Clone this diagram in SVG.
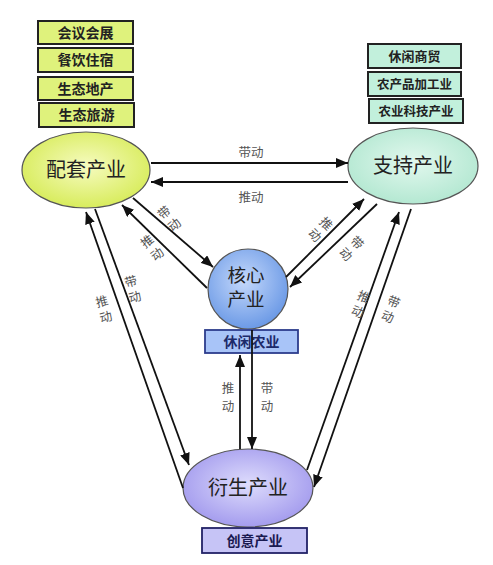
<svg xmlns="http://www.w3.org/2000/svg" width="493" height="565" viewBox="0 0 493 565">
<defs>
  <radialGradient id="gPT" cx="50%" cy="45%" r="55%">
    <stop offset="0" stop-color="#f6fbc0"/>
    <stop offset="1" stop-color="#d8ec5c"/>
  </radialGradient>
  <radialGradient id="gZC" cx="50%" cy="45%" r="55%">
    <stop offset="0" stop-color="#e2f8ee"/>
    <stop offset="1" stop-color="#b4e8d2"/>
  </radialGradient>
  <radialGradient id="gHX" cx="45%" cy="40%" r="60%">
    <stop offset="0" stop-color="#c4d8fb"/>
    <stop offset="1" stop-color="#6c9ae6"/>
  </radialGradient>
  <radialGradient id="gYS" cx="50%" cy="45%" r="55%">
    <stop offset="0" stop-color="#dedcfc"/>
    <stop offset="1" stop-color="#a49cee"/>
  </radialGradient>
  <marker id="arr" viewBox="0 0 12 10" refX="12" refY="5" markerWidth="12" markerHeight="10" markerUnits="userSpaceOnUse" orient="auto">
    <path d="M0,0 L12,5 L0,10 z" fill="#111"/>
  </marker>
  <style>
    .ell { stroke: #555; stroke-width: 1.2; }
    .nt { font-family: "Noto Sans CJK SC", "Noto Sans", sans-serif; font-size: 20px; fill: #222; text-anchor: middle; }
    .bx { stroke: #222; stroke-width: 2; }
    .bt { font-family: "Noto Sans CJK SC", "Noto Sans", sans-serif; font-size: 14px; font-weight: bold; fill: #222; text-anchor: middle; }
    .ln { stroke: #111; stroke-width: 1.8; fill: none; marker-end: url(#arr); }
    .lb { font-family: "Noto Sans CJK SC", "Noto Sans", sans-serif; font-size: 12.5px; fill: #555; text-anchor: middle; }
  </style>
</defs>
<rect width="493" height="565" fill="#ffffff"/>

<g id="peitao-boxes">
  <rect class="bx" x="38" y="21" width="95" height="23" fill="#dff27c"/>
  <text class="bt" x="85.5" y="37.5">会议会展</text>
  <rect class="bx" x="38" y="48" width="95" height="24" fill="#dff27c"/>
  <text class="bt" x="85.5" y="65">餐饮住宿</text>
  <rect class="bx" x="38" y="77" width="95" height="23" fill="#dff27c"/>
  <text class="bt" x="85.5" y="93.5">生态地产</text>
  <rect class="bx" x="39" y="103" width="95" height="24" fill="#dff27c"/>
  <text class="bt" x="86.5" y="120">生态旅游</text>
</g>

<g id="zhichi-boxes">
  <rect class="bx" x="368" y="44" width="93" height="24" fill="#c2f0dc"/>
  <text class="bt" x="414.5" y="61" style="font-size:13px">休闲商贸</text>
  <rect class="bx" x="368" y="72" width="93" height="24" fill="#c2f0dc"/>
  <text class="bt" x="414.5" y="89" style="font-size:12.5px">农产品加工业</text>
  <rect class="bx" x="369" y="99" width="94" height="24" fill="#c2f0dc"/>
  <text class="bt" x="416" y="116" style="font-size:12.5px">农业科技产业</text>
</g>

<g id="peitao">
  <ellipse class="ell" cx="86" cy="170" rx="64" ry="38" fill="url(#gPT)"/>
  <text class="nt" x="86" y="177">配套产业</text>
</g>

<g id="zhichi">
  <ellipse class="ell" cx="413" cy="166" rx="65" ry="38" fill="url(#gZC)"/>
  <text class="nt" x="413" y="173">支持产业</text>
</g>

<g id="hexin">
  <circle class="ell" cx="248" cy="289" r="40" fill="url(#gHX)"/>
  <text class="nt" x="246" y="282" style="font-size:18.5px">核心</text>
  <text class="nt" x="246" y="306" style="font-size:18.5px">产业</text>
</g>

<g id="xiuxian">
  <rect x="205" y="330" width="93" height="23" fill="#a8c4f8" stroke="#2c3c8c" stroke-width="1.8"/>
  <text class="bt" x="251.5" y="346.5" style="fill:#1c2a6a">休闲农业</text>
</g>

<g id="yansheng">
  <ellipse class="ell" cx="248" cy="488" rx="65" ry="39" fill="url(#gYS)"/>
  <text class="nt" x="248" y="495">衍生产业</text>
</g>

<g id="chuangyi">
  <rect x="202" y="528" width="105" height="25" fill="#c6c4f6" stroke="#222266" stroke-width="1.8"/>
  <text class="bt" x="254.5" y="545.5" style="fill:#1a1a50">创意产业</text>
</g>

<g id="connectors">
  <line class="ln" x1="151" y1="163" x2="348" y2="163"/>
  <line class="ln" x1="348" y1="182" x2="151" y2="182"/>
  <line class="ln" x1="133" y1="198" x2="213" y2="267"/>
  <line class="ln" x1="207" y1="288" x2="122" y2="205"/>
  <line class="ln" x1="286" y1="277" x2="364" y2="199"/>
  <line class="ln" x1="377" y1="204" x2="290" y2="287"/>
  <line class="ln" x1="183" y1="488" x2="86" y2="212"/>
  <line class="ln" x1="95" y1="209" x2="189" y2="465"/>
  <line class="ln" x1="307" y1="470" x2="399" y2="212"/>
  <line class="ln" x1="411" y1="209" x2="314" y2="487"/>
  <line class="ln" x1="240" y1="449" x2="240" y2="355"/>
  <line class="ln" x1="252" y1="330" x2="252" y2="449"/>
</g>

<g id="labels">
  <text class="lb" x="251" y="157">带动</text>
  <text class="lb" x="251" y="202">推动</text>
  <g transform="translate(167,216) rotate(-40)">
    <text class="lb" x="0" y="0">带</text>
    <text class="lb" x="0" y="16">动</text>
  </g>
  <g transform="translate(150,245) rotate(-38)">
    <text class="lb" x="0" y="0">推</text>
    <text class="lb" x="0" y="16">动</text>
  </g>
  <g transform="translate(323,227) rotate(45)">
    <text class="lb" x="0" y="0">推</text>
    <text class="lb" x="0" y="16">动</text>
  </g>
  <g transform="translate(354,246) rotate(45)">
    <text class="lb" x="0" y="0">带</text>
    <text class="lb" x="0" y="16">动</text>
  </g>
  <g transform="translate(103,306) rotate(-15)">
    <text class="lb" x="0" y="0">推</text>
    <text class="lb" x="0" y="16">动</text>
  </g>
  <g transform="translate(132,286) rotate(-15)">
    <text class="lb" x="0" y="0">带</text>
    <text class="lb" x="0" y="16">动</text>
  </g>
  <g transform="translate(362,301) rotate(22)">
    <text class="lb" x="0" y="0">推</text>
    <text class="lb" x="0" y="16">动</text>
  </g>
  <g transform="translate(392,306) rotate(22)">
    <text class="lb" x="0" y="0">带</text>
    <text class="lb" x="0" y="16">动</text>
  </g>
  <text class="lb" x="228" y="393">推</text>
  <text class="lb" x="228" y="411">动</text>
  <text class="lb" x="267" y="393">带</text>
  <text class="lb" x="267" y="411">动</text>
</g>
</svg>
